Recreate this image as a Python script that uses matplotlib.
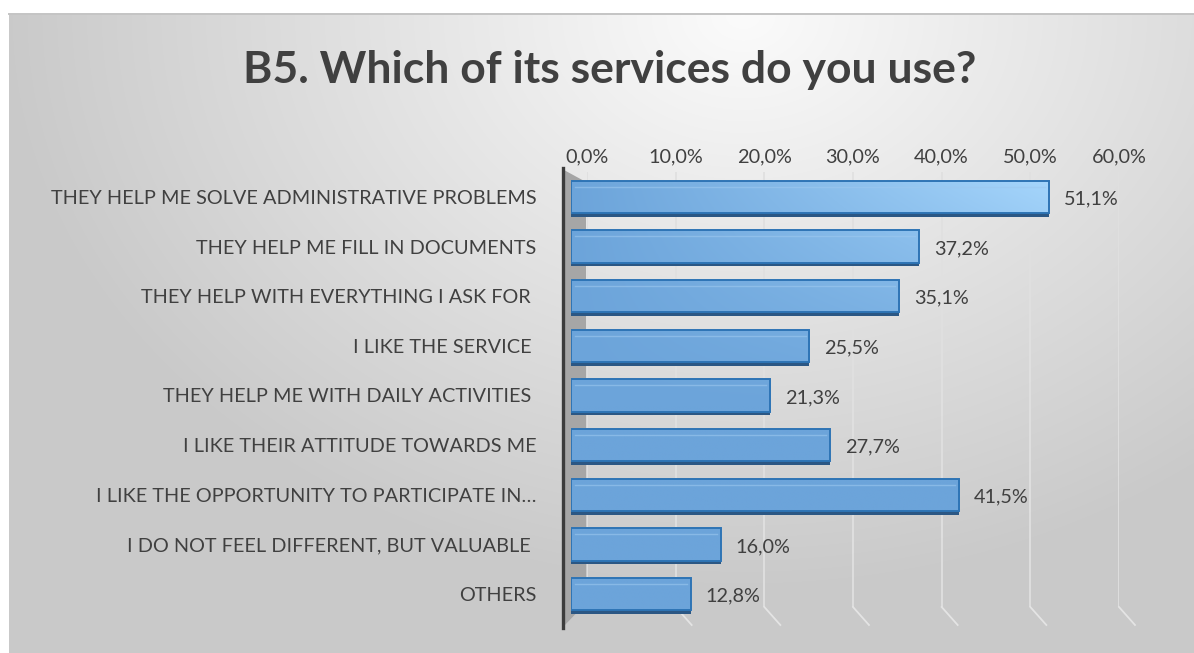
import matplotlib.pyplot as plt
import numpy as np
from matplotlib.patches import Polygon
from matplotlib.lines import Line2D

plt.rcParams['font.family'] = ['Lato', 'DejaVu Sans']

TITLE = 'B5. Which of its services do you use?'
categories = [
    'THEY HELP ME SOLVE ADMINISTRATIVE PROBLEMS',
    'THEY HELP ME FILL IN DOCUMENTS',
    'THEY HELP WITH EVERYTHING I ASK FOR ',
    'I LIKE THE SERVICE ',
    'THEY HELP ME WITH DAILY ACTIVITIES ',
    'I LIKE THEIR ATTITUDE TOWARDS ME',
    'I LIKE THE OPPORTUNITY TO PARTICIPATE IN…',
    'I DO NOT FEEL DIFFERENT, BUT VALUABLE ',
    'OTHERS',
]
values = [51.1, 37.2, 35.1, 25.5, 21.3, 27.7, 41.5, 16.0, 12.8]
ticks = [0, 10, 20, 30, 40, 50, 60]

W, H = 1194, 653
TXT = '#404040'
FS = 14.3


def box(x0, y0, x1, y1):
    # pixel box (top-left origin) -> figure fraction [l, b, w, h]
    return [x0 / W, 1 - y1 / H, (x1 - x0) / W, (y1 - y0) / H]


def fpx(x, y):
    return (x / W, 1 - y / H)


fig = plt.figure(figsize=(W / 100, H / 100), dpi=100)
fig.patch.set_facecolor('white')

# chart area background: soft radial grey gradient
bg = fig.add_axes(box(9, 14, W, H))
bg.set_zorder(0)
gx, gy = np.meshgrid(np.linspace(0, 1, 400), np.linspace(0, 1, 220))
d = np.sqrt(((gx - 0.62) * 1.3) ** 2 + ((gy - 0.0) * 0.9) ** 2)
shade = np.clip(0.985 - 0.24 * d, 0.79, 0.985)
bg.imshow(np.dstack([shade] * 3), aspect='auto', extent=[0, 1, 1, 0], interpolation='bicubic')
bg.set_axis_off()
bg.add_artist(Line2D([0, 1], [1, 1], transform=bg.transAxes, color='#c4c4c4', lw=1.4,
                     clip_on=False))

# back wall: gridlines and percentage ticks
back = fig.add_axes(box(587, 172, 1119, 607))
back.set_zorder(1)
back.set_xlim(0, 60)
back.set_ylim(0, 1)
back.patch.set_alpha(0)
back.set_xticks(ticks)
back.set_xticklabels([f'{t:.1f}%'.replace('.', ',') for t in ticks])
back.xaxis.tick_top()
back.tick_params(axis='x', length=0, pad=5, labelsize=FS, labelcolor=TXT)
back.set_yticks([])
for s in back.spines.values():
    s.set_visible(False)
back.grid(axis='x', color='#e0e0e0', lw=1.3)
bw = back.get_position().width * W
bh = back.get_position().height * H
for t in ticks[1:]:
    back.plot([t, t + 16 / bw * 60], [0, -18 / bh], color='#e4e4e4', lw=1.3, clip_on=False)

# left side wall, drawn on the back layer
back.add_artist(Polygon([fpx(564, 170), fpx(586, 182), fpx(586, 603), fpx(564, 626)],
                        closed=True, facecolor='#a6a6a6', edgecolor='none',
                        transform=fig.transFigure, clip_on=False))
back.add_artist(Line2D([563 / W] * 2, [1 - 168 / H, 1 - 628 / H], color='#3c3c3c', lw=2.4,
                       transform=fig.transFigure, clip_on=False))

# front plane: the bars
ax = fig.add_axes(box(571, 172, 571 + 60 * 9.35, 619))
ax.set_zorder(2)
ax.set_xlim(0, 60)
ax.set_ylim(len(values) - 0.5, -0.5)
ax.patch.set_alpha(0)
for s in ax.spines.values():
    s.set_visible(False)
ax.set_xticks([])
y = np.arange(len(values))
ax.set_yticks(y)
ax.set_yticklabels(categories)
ax.tick_params(axis='y', length=0, pad=25, labelsize=FS, labelcolor=TXT)

bh_data = 0.645
# dark underside of each bar
ax.barh(y + 0.08, values, height=bh_data, color='#2b5784', zorder=2)
bars = ax.barh(y, values, height=bh_data, facecolor='none', edgecolor='#2e74b5',
               lw=1.4, zorder=4)

# blue fill, lighter towards the upper right
fx, fy = np.meshgrid(np.linspace(0, 60, 300), np.linspace(-0.5, 8.5, 200))
tt = np.clip(fx / 52, 0, 1) * np.clip(1 - (fy + 0.3) / 4.5, 0, 1)
c0 = np.array([0x6c, 0xa4, 0xda]) / 255
c1 = np.array([0xa6, 0xd6, 0xfc]) / 255
grad = c0 + (c1 - c0) * tt[..., None]
for b in bars:
    im = ax.imshow(grad, extent=[0, 60, 8.5, -0.5], aspect='auto', zorder=3,
                   interpolation='bilinear')
    im.set_clip_path(b)
ax.set_xlim(0, 60)
ax.set_ylim(len(values) - 0.5, -0.5)

# top-face highlight line
for yi, v in zip(y, values):
    ax.plot([0.4, v - 0.4], [yi - bh_data / 2 + 0.12] * 2, color='#9cc8ef', lw=1.0,
            alpha=0.6, zorder=4)

for yi, v in zip(y, values):
    ax.text(v + 1.6, yi + 0.04, f'{v:.1f}%'.replace('.', ','), va='center', ha='left',
            fontsize=FS, color=TXT, zorder=5)

fig.text(610 / W, 1 - 70 / H, TITLE, ha='center', va='center', fontsize=32,
         fontweight='bold', color=TXT)

fig.savefig('out.png', dpi=100)
